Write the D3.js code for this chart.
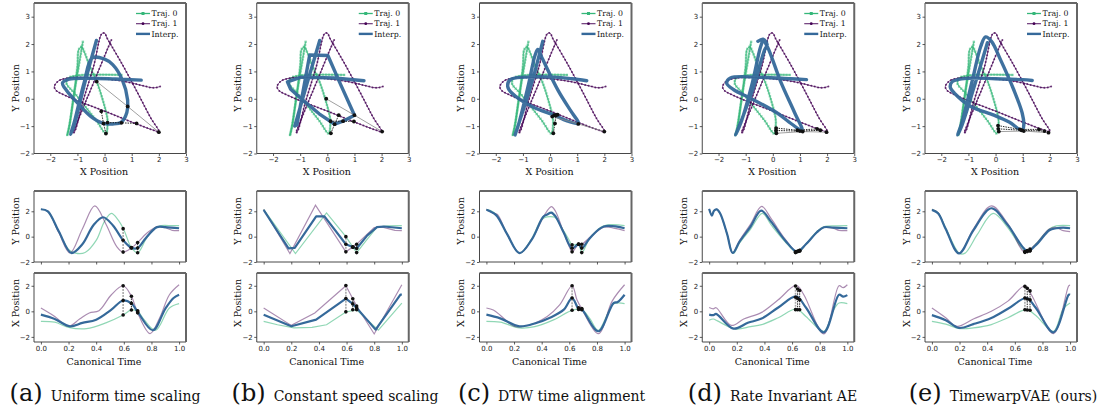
<!DOCTYPE html>
<html>
<head>
<meta charset="utf-8">
<script src="https://d3js.org/d3.v7.min.js"></script>
<style>
  body { margin: 0; background: #fff; }
  svg { display: block; }
  .tick text { font-family: "DejaVu Sans", sans-serif; font-size: 7px; fill: #222; }
  .tick line { stroke: #333; stroke-width: 0.8; }
  .lbl { font-family: "DejaVu Serif", serif; font-size: 9.5px; fill: #111; }
  .leg { font-family: "DejaVu Serif", serif; font-size: 7.8px; fill: #111; }
  .cap { font-family: "DejaVu Serif", serif; fill: #111; }
</style>
</head>
<body>
<svg id="fig"></svg>
<script>
// ---- shared trajectories in the XY plane (same in every panel) ----
var traj0XY = [[-0.8,2.08],[-0.95,1.2],[-1.15,0.0],[-1.3,-1.0],[-1.38,-1.35],[-1.3,-1.0],[-1.15,0.0],[-1.0,1.2],
  [-0.95,1.8],[-0.85,1.9],[-0.75,1.72],[-0.55,1.2],[-0.29,0.63],[-0.05,-0.1],[0.1,-0.7],[0.11,-0.95],[0.05,-1.27],
  [-0.3,-0.8],[-0.7,-0.3],[-1.1,0.2],[-1.4,0.55],[-1.35,0.75],[-1.0,0.85],[-0.3,0.88],[0.65,0.87]];
var traj1XY = [[0.25,2.15],[0.1,1.8],[-0.4,0.6],[-0.9,-0.6],[-1.15,-1.25],[-1.1,-1.2],[-0.8,-0.1],[-0.4,1.2],
  [-0.1,2.38],[0.0,2.4],[0.1,2.2],[0.6,1.35],[1.2,0.25],[1.7,-0.7],[2.0,-1.2],[1.8,-1.15],[1.0,-0.85],[0.0,-0.45],
  [-0.8,-0.15],[-1.4,0.1],[-1.78,0.3],[-1.85,0.45],[-1.7,0.65],[-1.4,0.75],[-0.8,0.78],[0.0,0.73],[0.8,0.62],
  [1.4,0.48],[1.8,0.4],[2.05,0.45]];

// ---- (a) uniform time scaling ----
var uniformXY = [[-0.3,2.13],[-0.75,0.5],[-1.1,-0.9],[-1.25,-1.3],[-1.1,-0.8],[-0.75,0.6],[-0.45,1.5],[0.0,1.45],
  [0.3,1.25],[0.65,0.7],[0.85,-0.05],[0.82,-0.5],[0.62,-0.85],[0.3,-0.92],[-0.04,-0.9],[-0.5,-0.65],[-1.0,-0.15],
  [-1.4,0.3],[-1.55,0.58],[-1.3,0.72],[-0.6,0.75],[0.4,0.72],[1.35,0.68]];
var uniformY0 = [[0,2.16],[0.05,2.0],[0.12,0.6],[0.2,-1.0],[0.25,-1.3],[0.32,-1.25],[0.4,-0.3],[0.46,1.2],[0.51,1.84],
  [0.56,1.3],[0.6,0.55],[0.655,-0.87],[0.70,-1.27],[0.76,-0.2],[0.82,0.65],[0.87,0.87],[0.95,0.87],[1.0,0.87]];
var uniformY1 = [[0,2.16],[0.05,2.0],[0.13,0.3],[0.21,-1.29],[0.3,0.6],[0.39,2.42],[0.47,1.0],[0.55,-0.8],[0.595,-1.22],
  [0.655,-0.9],[0.70,-0.46],[0.77,0.3],[0.84,0.78],[0.9,0.7],[0.95,0.5],[1.0,0.47]];
var uniformYI = [[0,2.16],[0.05,2.0],[0.13,0.4],[0.22,-1.29],[0.3,-0.6],[0.38,0.9],[0.45,1.53],[0.52,0.9],[0.595,-0.28],
  [0.655,-0.88],[0.70,-0.9],[0.76,-0.1],[0.84,0.75],[0.9,0.75],[1.0,0.66]];
var uniformX0 = [[0,-0.78],[0.1,-0.85],[0.2,-1.25],[0.33,-1.35],[0.47,-0.9],[0.595,-0.29],[0.655,0.11],[0.70,0.0],
  [0.75,-0.7],[0.83,-1.48],[0.93,0.26],[1.0,0.6]];
var uniformX1 = [[0,0.26],[0.1,-0.4],[0.2,-1.17],[0.28,-0.6],[0.35,-0.13],[0.42,0.05],[0.51,1.3],[0.595,2.0],
  [0.655,1.18],[0.70,-0.12],[0.79,-1.74],[0.86,-0.5],[0.93,1.3],[1.0,2.08]];
var uniformXI = [[0,-0.26],[0.1,-0.6],[0.21,-1.17],[0.3,-0.9],[0.4,-0.65],[0.51,0.13],[0.595,0.85],[0.655,0.62],
  [0.70,-0.04],[0.81,-1.48],[0.9,0.2],[0.96,1.04],[1.0,1.3]];
// [t, x0, y0, xInterp, yInterp, x1, y1]
var uniformMarks = [[0.595,-0.29,0.63,0.85,-0.28,2.0,-1.22],[0.655,0.11,-0.87,0.62,-0.88,1.18,-0.9],
  [0.70,0.05,-1.27,-0.04,-0.9,-0.12,-0.46]];

// ---- (b) constant speed scaling ----
var constantXY = [[-0.28,2.13],[-0.75,0.55],[-1.2,-1.0],[-1.12,-0.95],[-0.65,1.6],[0.02,1.58],[0.5,0.5],[1.0,-0.6],
  [0.58,-0.82],[0.27,-0.93],[-0.3,-0.55],[-0.9,-0.05],[-1.35,0.35],[-1.47,0.62],[-0.96,0.79],[0.27,0.76],[1.35,0.66]];
var constantY0 = [[0,2.16],[0.23,-1.33],[0.455,1.87],[0.595,0.0],[0.673,-1.27],[0.75,-0.2],[0.82,0.75],[0.9,0.85],[1.0,0.87]];
var constantY1 = [[0,2.16],[0.19,-1.33],[0.375,2.48],[0.595,-1.2],[0.673,-0.6],[0.74,0.1],[0.8,0.72],[0.86,0.75],[0.95,0.5],[1,0.47]];
var constantYI = [[0,2.1],[0.18,-0.93],[0.225,-0.88],[0.38,1.6],[0.44,1.6],[0.595,-0.6],[0.645,-0.82],[0.673,-0.93],
  [0.75,0.1],[0.82,0.75],[0.87,0.8],[1,0.66]];
var constantX0 = [[0,-0.78],[0.1,-1.05],[0.22,-1.3],[0.35,-1.25],[0.455,-1.05],[0.595,-0.05],[0.673,0.12],[0.83,-1.48],[1,0.65]];
var constantX1 = [[0,0.26],[0.2,-1.1],[0.37,-0.13],[0.595,2.0],[0.673,0.42],[0.8,-1.77],[1,2.08]];
var constantXI = [[0,-0.26],[0.2,-1.17],[0.38,-0.65],[0.595,1.0],[0.645,0.58],[0.673,0.27],[0.81,-1.43],[0.99,1.3],[1,1.3]];
var constantMarks = [[0.595,-0.04,0.0,1.0,-0.6,2.02,-1.2],[0.645,0.12,-0.82,0.58,-0.82,0.98,-0.83],
  [0.673,0.13,-1.26,0.27,-0.93,0.42,-0.6]];

// ---- (c) DTW time alignment ----
var dtwXY = [[-0.27,2.1],[-0.7,0.5],[-1.15,-0.9],[-1.29,-1.32],[-1.15,-0.9],[-0.8,0.5],[-0.55,1.6],[-0.45,1.8],
  [-0.3,1.5],[0.3,0.3],[0.8,-0.5],[1.05,-0.9],[0.6,-0.8],[0.2,-0.62],[-0.67,-0.28],[-1.41,0.21],[-1.56,0.45],
  [-1.47,0.7],[-0.92,0.79],[0.18,0.79],[0.8,0.73],[1.35,0.66]];
var dtwY0 = [[0,2.16],[0.03,2.05],[0.07,1.75],[0.15,0.2],[0.24,-1.3],[0.32,-0.3],[0.39,1.2],[0.42,1.5],[0.5,1.5],
  [0.53,1.0],[0.6,-0.3],[0.62,-0.65],[0.667,-0.6],[0.69,-1.26],[0.75,-0.1],[0.85,0.85],[1,0.87]];
var dtwY1 = [[0,2.16],[0.03,1.95],[0.06,1.8],[0.08,1.75],[0.15,0.2],[0.24,-1.3],[0.33,-0.2],[0.42,1.7],[0.47,2.37],
  [0.5,2.0],[0.55,0.6],[0.6,-0.8],[0.62,-1.2],[0.667,-0.6],[0.69,-0.6],[0.75,-0.05],[0.85,0.75],[0.93,0.65],[1,0.47]];
var dtwYI = [[0,2.12],[0.07,1.7],[0.15,0.2],[0.24,-1.3],[0.33,-0.2],[0.41,1.55],[0.44,1.75],[0.47,1.9],[0.5,1.6],
  [0.56,0.3],[0.62,-0.92],[0.667,-0.6],[0.69,-0.92],[0.75,-0.1],[0.85,0.8],[1,0.66]];
var dtwX0 = [[0,-0.78],[0.1,-0.85],[0.24,-1.3],[0.35,-1.2],[0.49,-0.65],[0.62,0.08],[0.69,0.13],[0.75,-0.6],
  [0.81,-1.48],[0.92,0.57],[1,0.6]];
var dtwX1 = [[0,0.26],[0.05,0.1],[0.1,-0.3],[0.2,-1.17],[0.3,-1.1],[0.44,-0.4],[0.53,0.5],[0.62,2.0],[0.655,0.9],
  [0.69,0.2],[0.81,-1.75],[0.91,0.8],[1,2.08]];
var dtwXI = [[0,-0.26],[0.1,-0.55],[0.24,-1.17],[0.35,-0.95],[0.46,-0.5],[0.56,0.13],[0.62,1.04],[0.667,0.2],
  [0.69,0.15],[0.81,-1.56],[0.92,0.65],[0.95,0.73],[1,1.3]];
var dtwMarks = [[0.62,0.08,-0.65,1.04,-0.92,2.0,-1.2],[0.667,0.15,-0.6,0.2,-0.6,0.28,-0.58],
  [0.69,0.12,-1.26,0.18,-0.9,0.22,-0.6]];

// ---- (d) rate invariant AE ----
var rateXY = [[-0.55,2.1],[-0.36,2.18],[-0.21,1.98],[-0.31,1.77],[-0.75,0.3],[-1.2,-0.9],[-1.37,-1.32],[-1.15,-0.8],
  [-0.75,0.6],[-0.45,1.9],[-0.35,2.12],[-0.2,1.9],[0.3,0.6],[0.8,-0.5],[1.08,-1.16],[0.6,-0.85],[0.16,-0.52],
  [-0.82,0.02],[-1.44,0.33],[-1.7,0.57],[-1.56,0.76],[-0.58,0.79],[0.65,0.73],[1.24,0.7]];
var rateY0 = [[0,2.18],[0.02,1.7],[0.035,2.05],[0.055,2.15],[0.08,1.8],[0.13,0.2],[0.175,-1.33],[0.22,-0.5],[0.3,0.6],
  [0.385,1.84],[0.45,0.9],[0.55,-0.4],[0.64,-1.27],[0.7,-0.6],[0.78,0.4],[0.83,0.78],[0.92,0.85],[1,0.87]];
var rateY1 = [[0,2.2],[0.02,1.7],[0.035,2.05],[0.055,2.15],[0.08,1.8],[0.13,0.2],[0.17,-1.29],[0.22,-0.3],[0.3,1.0],
  [0.38,2.38],[0.45,1.4],[0.55,-0.2],[0.64,-1.22],[0.7,-0.6],[0.78,0.35],[0.83,0.72],[0.9,0.65],[0.94,0.5],[1,0.47]];
var rateYI = [[0,2.18],[0.02,1.66],[0.035,2.05],[0.055,2.15],[0.08,1.82],[0.13,0.2],[0.17,-1.29],[0.22,-0.4],[0.3,0.8],
  [0.376,2.05],[0.45,1.15],[0.55,-0.3],[0.636,-1.18],[0.7,-0.6],[0.78,0.35],[0.83,0.74],[0.9,0.71],[1,0.66]];
var rateX0 = [[0,-0.7],[0.03,-0.6],[0.06,-0.75],[0.19,-1.38],[0.3,-1.2],[0.38,-1.04],[0.5,-0.5],[0.63,0.18],[0.7,-0.4],
  [0.83,-1.56],[0.9,0.1],[0.94,0.65],[1,0.6]];
var rateX1 = [[0,0.3],[0.03,0.2],[0.05,0.28],[0.16,-1.1],[0.25,-0.6],[0.38,-0.08],[0.5,0.9],[0.63,2.03],[0.685,1.3],
  [0.83,-1.77],[0.94,2.0],[0.97,1.85],[1,2.08]];
var rateXI = [[0,-0.26],[0.03,-0.3],[0.05,-0.2],[0.175,-1.35],[0.28,-0.9],[0.38,-0.57],[0.5,0.3],[0.63,1.17],[0.7,0.3],
  [0.83,-1.64],[0.94,1.3],[0.97,1.15],[1,1.27]];
var rateMarks = [[0.625,0.13,-1.26,1.1,-1.2,1.98,-1.22],[0.64,0.12,-1.16,1.0,-1.18,1.75,-1.15],
  [0.655,0.12,-1.07,0.9,-1.15,1.63,-1.1]];

// ---- (e) TimewarpVAE ----
var warpXY = [[-0.3,2.05],[-0.8,0.4],[-1.25,-1.0],[-1.4,-1.32],[-1.25,-0.9],[-0.85,0.7],[-0.55,1.9],[-0.37,2.26],
  [-0.15,2.1],[0.18,1.43],[0.67,0.33],[0.98,-0.52],[1.04,-0.95],[0.98,-1.15],[0.5,-0.85],[-0.06,-0.6],[-0.91,-0.28],
  [-1.52,0.21],[-1.67,0.43],[-1.59,0.63],[-1.0,0.75],[0,0.73],[1.0,0.7],[1.35,0.67]];
var warpY0 = [[0,2.16],[0.044,1.9],[0.1,0.7],[0.2,-1.33],[0.24,-1.3],[0.33,0.2],[0.443,1.84],[0.55,0.7],[0.65,-0.9],
  [0.69,-1.18],[0.75,-0.6],[0.85,0.6],[0.9,0.85],[1,0.87]];
var warpY1 = [[0,2.16],[0.044,1.9],[0.1,0.6],[0.196,-1.3],[0.3,0.6],[0.43,2.42],[0.55,1.0],[0.673,-1.24],[0.75,-0.6],
  [0.85,0.6],[0.9,0.72],[0.95,0.47],[1,0.4]];
var warpYI = [[0,2.1],[0.044,1.84],[0.1,0.6],[0.196,-1.32],[0.3,0.5],[0.43,2.24],[0.55,0.9],[0.69,-1.13],[0.75,-0.7],
  [0.85,0.5],[0.9,0.66],[0.95,0.71],[1,0.66]];
var warpX0 = [[0,-0.78],[0.1,-1.0],[0.2,-1.35],[0.3,-1.3],[0.43,-1.04],[0.55,-0.5],[0.685,0.13],[0.75,-0.3],[0.88,-1.56],
  [0.95,0.2],[1,0.65]];
var warpX1 = [[0,0.26],[0.1,-0.5],[0.18,-1.17],[0.3,-0.6],[0.43,0.0],[0.55,0.8],[0.673,2.0],[0.72,1.3],[0.88,-1.74],
  [0.99,2.0],[1,2.05]];
var warpXI = [[0,-0.3],[0.1,-0.7],[0.196,-1.3],[0.3,-1.0],[0.43,-0.52],[0.55,0.2],[0.685,1.04],[0.75,0.3],[0.88,-1.64],
  [0.99,1.3],[1,1.3]];
var warpMarks = [[0.673,0.12,-1.2,1.04,-1.18,1.95,-1.24],[0.69,0.1,-1.1,0.96,-1.15,1.8,-1.18],
  [0.71,0.09,-0.98,0.9,-1.12,1.6,-1.12]];

// ---- ticks and texts ----
var xyTicks = [-2, -1, 0, 1, 2, 3];
var posTicks = [-2, 0, 2];
var timeTicks = [0, 0.2, 0.4, 0.6, 0.8, 1.0];
var legendLabels = ["Traj. 0", "Traj. 1", "Interp."];
var panelLetters = ["(a)", "(b)", "(c)", "(d)", "(e)"];
var panelTitles = ["Uniform time scaling", "Constant speed scaling", "DTW time alignment",
                   "Rate Invariant AE", "TimewarpVAE (ours)"];

var panels = [
  { xy: uniformXY,  y0: uniformY0,  y1: uniformY1,  yi: uniformYI,  x0: uniformX0,  x1: uniformX1,  xi: uniformXI,  marks: uniformMarks,  linear: false },
  { xy: constantXY, y0: constantY0, y1: constantY1, yi: constantYI, x0: constantX0, x1: constantX1, xi: constantXI, marks: constantMarks, linear: true },
  { xy: dtwXY,      y0: dtwY0,      y1: dtwY1,      yi: dtwYI,      x0: dtwX0,      x1: dtwX1,      xi: dtwXI,      marks: dtwMarks,      linear: false },
  { xy: rateXY,     y0: rateY0,     y1: rateY1,     yi: rateYI,     x0: rateX0,     x1: rateX1,     xi: rateXI,     marks: rateMarks,     linear: false },
  { xy: warpXY,     y0: warpY0,     y1: warpY1,     yi: warpYI,     x0: warpX0,     x1: warpX1,     xi: warpXI,     marks: warpMarks,     linear: false }
];

// ---- layout ----
var W = 1106, H = 416;
var AxLeft = 34, PanelStep = 222.75, AxWidth = 152;
var XYTop = 3, XYBottom = 153.5;
var YTop = 191, YBottom = 262;
var XTop = 273, XBottom = 342;
var captionCenters = [105, 335, 551.5, 772.5, 1003];

var GREEN = "#35b779", PURPLE = "#440154", BLUE = "#35699a";

var smooth = d3.curveCatmullRom.alpha(0.5);

var svg = d3.select("#fig").attr("width", W).attr("height", H);

function spines(g, w, h) {
    g.append("line").attr("x1", 0).attr("y1", 0).attr("x2", 0).attr("y2", h)
        .attr("stroke", "#333").attr("stroke-width", 0.9);
    g.append("line").attr("x1", 0).attr("y1", h).attr("x2", w).attr("y2", h)
        .attr("stroke", "#333").attr("stroke-width", 0.9);
    g.append("line").attr("x1", 0).attr("y1", 0).attr("x2", w).attr("y2", 0)
        .attr("stroke", "#666").attr("stroke-width", 2);
    g.append("line").attr("x1", w).attr("y1", 0).attr("x2", w).attr("y2", h)
        .attr("stroke", "#666").attr("stroke-width", 2);
}

function cleanAxis(sel) { sel.select(".domain").remove(); }

function alongPath(g, node, step, draw) {
    var L = node.getTotalLength();
    d3.range(0, L, step).forEach(function(l) {
        var p = node.getPointAtLength(l);
        draw(g, p.x, p.y);
    });
}

function markStyle(sel, k, faint) {
    if (k === 0) {
        sel.attr("stroke", faint ? "#aaa" : "#888").attr("stroke-width", faint ? 1.6 : 0.8)
           .attr("stroke-dasharray", faint ? "2,1" : null);
    } else {
        sel.attr("stroke", "#111").attr("stroke-width", 0.9).attr("stroke-dasharray", "1.5,1");
    }
}

function drawXY(g, p) {
    var w = AxWidth, h = XYBottom - XYTop;
    var ax = g.append("g").attr("transform", "translate(0," + XYTop + ")");
    var x = d3.scaleLinear().domain([-2.6, 3.0]).range([0, w]);
    var y = d3.scaleLinear().domain([-2, 3.5]).range([h, 0]);

    ax.append("g").attr("transform", "translate(0," + h + ")")
        .call(d3.axisBottom(x).tickValues(xyTicks).tickSize(2.5).tickPadding(1.5).tickFormat(d3.format("d")))
        .call(cleanAxis);
    ax.append("g")
        .call(d3.axisLeft(y).tickValues(xyTicks).tickSize(2.5).tickPadding(1.5).tickFormat(d3.format("d")))
        .call(cleanAxis);

    var lineS = d3.line().x(function(d) { return x(d[0]); }).y(function(d) { return y(d[1]); }).curve(smooth);
    var lineI = d3.line().x(function(d) { return x(d[0]); }).y(function(d) { return y(d[1]); })
        .curve(p.linear ? d3.curveLinear : smooth);

    // traj 0 : line with square markers
    var g0 = ax.append("g");
    var p0 = g0.append("path").attr("d", lineS(traj0XY)).attr("fill", "none")
        .attr("stroke", GREEN).attr("stroke-width", 1).attr("stroke-opacity", 0.8);
    alongPath(g0, p0.node(), 3, function(gg, px, py) {
        gg.append("rect").attr("x", px - 1.2).attr("y", py - 1.2).attr("width", 2.4).attr("height", 2.4)
            .attr("fill", GREEN).attr("fill-opacity", 0.6);
    });

    // traj 1 : thin line with dots
    var g1 = ax.append("g");
    var p1 = g1.append("path").attr("d", lineS(traj1XY)).attr("fill", "none")
        .attr("stroke", PURPLE).attr("stroke-width", 0.9).attr("stroke-opacity", 0.8);
    alongPath(g1, p1.node(), 3.5, function(gg, px, py) {
        gg.append("circle").attr("cx", px).attr("cy", py).attr("r", 1)
            .attr("fill", PURPLE).attr("fill-opacity", 0.75);
    });

    // interpolation
    ax.append("path").attr("d", lineI(p.xy)).attr("fill", "none")
        .attr("stroke", BLUE).attr("stroke-width", 3.4).attr("stroke-opacity", 0.95)
        .attr("stroke-linecap", "round").attr("stroke-linejoin", "round");

    // correspondences
    p.marks.forEach(function(m, k) {
        var pts = [[m[1], m[2]], [m[3], m[4]], [m[5], m[6]]];
        ax.append("path").attr("d", d3.line().x(function(d) { return x(d[0]); }).y(function(d) { return y(d[1]); })(pts))
            .attr("fill", "none").call(markStyle, k, false);
        pts.forEach(function(d) {
            ax.append("circle").attr("cx", x(d[0])).attr("cy", y(d[1])).attr("r", 1.9).attr("fill", "#111");
        });
    });

    // legend
    var lg = ax.append("g");
    legendLabels.forEach(function(t, k) {
        var ly = 10.5 + 10.2 * k;
        var row = lg.append("g");
        if (k === 0) {
            row.append("line").attr("x1", 102).attr("x2", 116).attr("y1", ly).attr("y2", ly)
                .attr("stroke", GREEN).attr("stroke-width", 1.3);
            row.append("rect").attr("x", 107.5).attr("y", ly - 1.5).attr("width", 3).attr("height", 3).attr("fill", GREEN);
        } else if (k === 1) {
            row.append("line").attr("x1", 102).attr("x2", 116).attr("y1", ly).attr("y2", ly)
                .attr("stroke", PURPLE).attr("stroke-width", 1.1).attr("stroke-opacity", 0.85);
            row.append("circle").attr("cx", 109).attr("cy", ly).attr("r", 1.4).attr("fill", PURPLE);
        } else {
            row.append("line").attr("x1", 102).attr("x2", 116).attr("y1", ly).attr("y2", ly)
                .attr("stroke", BLUE).attr("stroke-width", 2.4);
        }
        row.append("text").attr("class", "leg").attr("x", 117.5).attr("y", ly + 2.7).text(t);
    });

    spines(ax, w, h);

    g.append("text").attr("class", "lbl").attr("text-anchor", "middle")
        .attr("x", 70).attr("y", 175).text("X Position");
    g.append("text").attr("class", "lbl").attr("text-anchor", "middle")
        .attr("transform", "translate(-15.5," + 88 + ") rotate(-90)").text("Y Position");
}

function drawSeries(g, p, top, bottom, domain, s0, s1, si, col, label, showTime) {
    var w = AxWidth, h = bottom - top;
    var ax = g.append("g").attr("transform", "translate(0," + top + ")");
    var x = d3.scaleLinear().domain([-0.05, 1.05]).range([0, w]);
    var y = d3.scaleLinear().domain(domain).range([h, 0]);

    ax.append("g").attr("transform", "translate(0," + h + ")")
        .call(d3.axisBottom(x).tickValues(timeTicks).tickSize(2.5).tickPadding(1.5)
            .tickFormat(showTime ? d3.format(".1f") : ""))
        .call(cleanAxis);
    ax.append("g")
        .call(d3.axisLeft(y).tickValues(posTicks).tickSize(2.5).tickPadding(1.5).tickFormat(d3.format("d")))
        .call(cleanAxis);

    var line = d3.line().x(function(d) { return x(d[0]); }).y(function(d) { return y(d[1]); })
        .curve(p.linear ? d3.curveLinear : smooth);

    ax.append("path").attr("d", line(s0)).attr("fill", "none")
        .attr("stroke", GREEN).attr("stroke-opacity", 0.55).attr("stroke-width", 1.2);
    ax.append("path").attr("d", line(s1)).attr("fill", "none")
        .attr("stroke", PURPLE).attr("stroke-opacity", 0.45).attr("stroke-width", 1.2);
    ax.append("path").attr("d", line(si)).attr("fill", "none")
        .attr("stroke", BLUE).attr("stroke-width", 2.2).attr("stroke-linejoin", "round");

    p.marks.forEach(function(m, k) {
        var vals = [m[col], m[col + 2], m[col + 4]];
        ax.append("line").attr("x1", x(m[0])).attr("x2", x(m[0]))
            .attr("y1", y(d3.min(vals))).attr("y2", y(d3.max(vals)))
            .call(markStyle, k, true);
        vals.forEach(function(v) {
            ax.append("circle").attr("cx", x(m[0])).attr("cy", y(v)).attr("r", 1.8).attr("fill", "#111");
        });
    });

    spines(ax, w, h);

    g.append("text").attr("class", "lbl").attr("text-anchor", "middle")
        .attr("transform", "translate(-15.5," + (top + 30) + ") rotate(-90)").text(label);
    if (showTime) {
        g.append("text").attr("class", "lbl").attr("text-anchor", "middle")
            .attr("x", 70).attr("y", 365).text("Canonical Time");
    }
}

panels.forEach(function(p, i) {
    var g = svg.append("g").attr("transform", "translate(" + (AxLeft + PanelStep * i) + ",0)");
    drawXY(g, p);
    // column index into marks: 2 -> y values, 1 -> x values
    drawSeries(g, p, YTop, YBottom, [-2, 3.6], p.y0, p.y1, p.yi, 2, "Y Position", false);
    drawSeries(g, p, XTop, XBottom, [-2.4, 3.0], p.x0, p.x1, p.xi, 1, "X Position", true);

    var cap = svg.append("text").attr("class", "cap").attr("text-anchor", "middle")
        .attr("x", captionCenters[i]).attr("y", 401);
    cap.append("tspan").attr("font-size", "24px").text(panelLetters[i]);
    cap.append("tspan").attr("font-size", "14px").attr("dx", 8).text(panelTitles[i]);
});
</script>
</body>
</html>
